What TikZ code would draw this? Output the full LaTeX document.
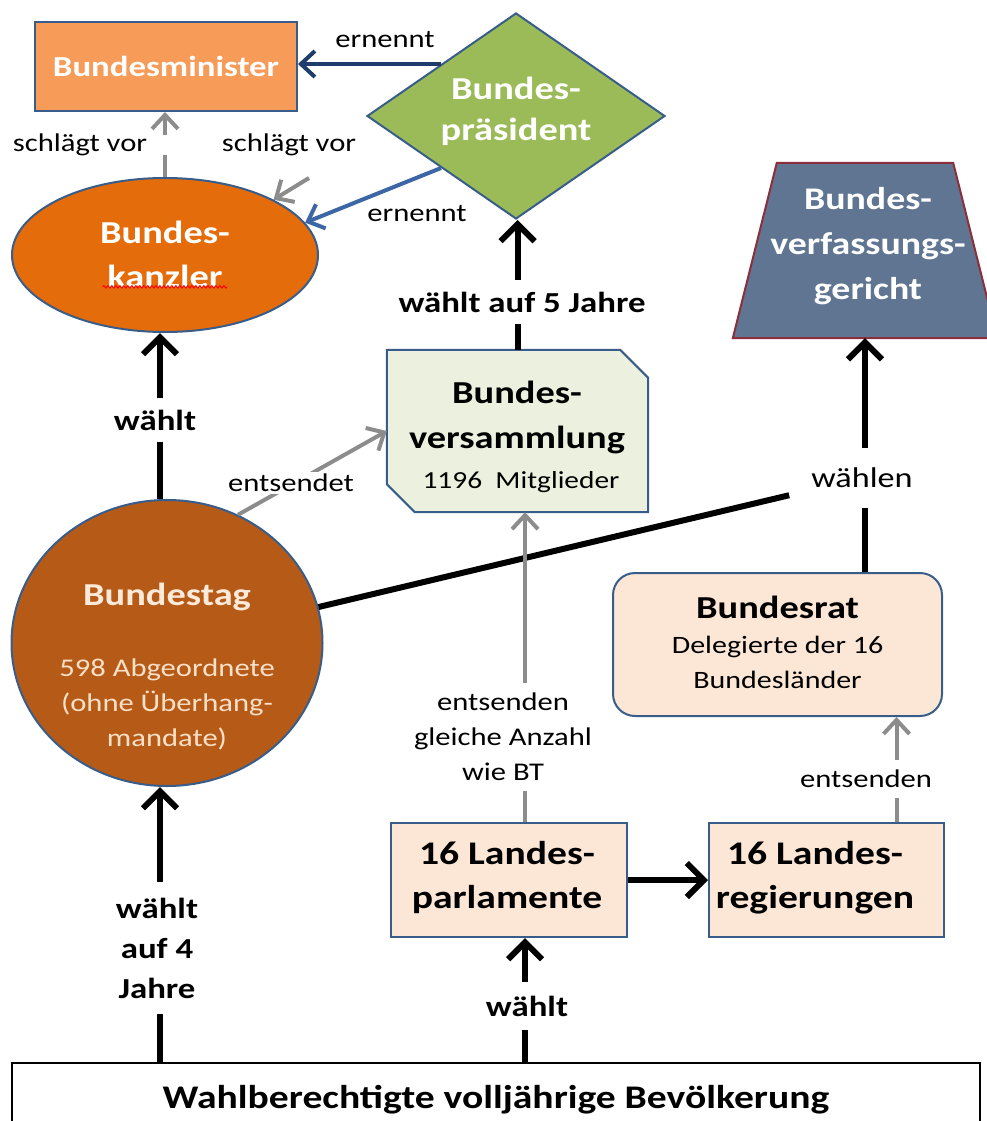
\documentclass[tikz,border=0pt]{standalone}
\usepackage{fontspec}
\setmainfont{Carlito}[FakeStretch=1.2]
\usetikzlibrary{arrows.meta,shapes.geometric,decorations.pathmorphing,calc}
\definecolor{bord}{HTML}{385D8A}
\definecolor{minfill}{HTML}{F79B58}
\definecolor{presfill}{HTML}{9BBB59}
\definecolor{kanzfill}{HTML}{E46C0A}
\definecolor{btfill}{HTML}{B65A17}
\definecolor{cream}{HTML}{FDEADA}
\definecolor{creamsub}{HTML}{FBE0C8}
\definecolor{bvfill}{HTML}{EBF1DE}
\definecolor{bvgfill}{HTML}{5F7591}
\definecolor{bvgbord}{HTML}{8C2F3D}
\definecolor{peach}{HTML}{FCE6D6}
\definecolor{arrgrey}{HTML}{8C8C8C}
\definecolor{darkblue}{HTML}{203C6C}
\definecolor{midblue}{HTML}{3D66A6}
\newcommand{\myfs}[2]{\fontsize{#1}{#2}\selectfont}
\tikzset{
  shapebox/.style={draw=bord, line width=2pt, inner sep=0pt},
  anchorbox/.style={inner sep=0pt},
  whitebold/.style={text=white, font=\bfseries\myfs{32}{43}, align=center},
  blackbold/.style={text=black, font=\bfseries\myfs{32}{44}, align=center},
  lbl/.style={font=\myfs{25.5}{35}, align=center, inner sep=1pt},
  lblbold/.style={font=\bfseries\myfs{29}{40}, align=center},
  blkarrow/.style={line width=6pt, -{Straight Barb[length=17pt,width=34pt]}},
  blkline/.style={line width=6pt},
  grarrow/.style={draw=arrgrey, line width=4pt, -{Straight Barb[length=14pt,width=26pt]}},
  dbarrow/.style={draw=darkblue, line width=4pt, -{Straight Barb[length=14pt,width=26pt]}},
  mbarrow/.style={draw=midblue, line width=4pt, -{Straight Barb[length=14pt,width=26pt]}}
}
\begin{document}
\begin{tikzpicture}[x=1pt,y=-1pt]
\useasboundingbox (0,0) rectangle (986,1121);

% ---- shapes ----
\node[shapebox, fill=minfill, minimum width=262pt, minimum height=89pt] (min) at (166,66.5) {};
\node[whitebold, font=\bfseries\myfs{29}{40}] (mint) at (166,66.5) {Bundesminister};

\node[shapebox, diamond, fill=presfill, minimum width=298pt, minimum height=206pt] (pres) at (516,116) {};
\node[whitebold, font=\bfseries\myfs{32}{41}] (prest) at (516,111) {Bundes-\\präsident};

\node[shapebox, ellipse, fill=kanzfill, minimum width=306pt, minimum height=154pt] (kanz) at (165,255) {};
\node[whitebold, font=\bfseries\myfs{32}{44}] (kanzt) at (165,254) {Bundes-\\kanzler};
\draw[red, line width=1pt, decorate, decoration={snake, amplitude=1.2pt, segment length=4pt}] ($(kanzt.south west)+(6,-4)$) -- ($(kanzt.south east)+(-6,-4)$);

\node[shapebox, ellipse, fill=btfill, minimum width=311pt, minimum height=286pt] (bt) at (167,643) {};
\node[text=cream, font=\bfseries\myfs{32}{43}] (btt) at (167,597) {Bundestag};
\node[text=creamsub, font=\myfs{25.5}{35}, align=center] (bts) at (167,704) {598 Abgeordnete\\(ohne Überhang-\\mandate)};

\node[anchorbox, minimum width=261pt, minimum height=162pt] (bv) at (517.5,431) {};
\draw[draw=bord, line width=2pt, fill=bvfill]
  (bv.north west) -- ($(bv.north east)+(-28,0)$) -- ($(bv.north east)+(0,28)$)
  -- (bv.south east) -- ($(bv.south west)+(28,0)$) -- ($(bv.south west)+(0,-28)$) -- cycle;
\node[blackbold, font=\bfseries\myfs{32}{45}] (bvt) at (517,417) {Bundes-\\versammlung};
\node[font=\myfs{24.5}{30}] (bvs) at (521,482) {1196~~Mitglieder};

\node[anchorbox, minimum width=264pt, minimum height=175pt] (bvg) at (865,250.5) {};
\draw[draw=bvgbord, line width=2pt, fill=bvgfill]
  (bvg.south west) -- ($(bvg.north west)+(44,0)$) -- ($(bvg.north east)+(-44,0)$) -- (bvg.south east) -- cycle;
\node[whitebold, font=\bfseries\myfs{31.5}{45}] (bvgt) at (868,246) {Bundes-\\verfassungs-\\gericht};

\node[shapebox, rounded corners=22pt, fill=peach, minimum width=329pt, minimum height=143pt] (br) at (777.5,644.5) {};
\node[blackbold] (brt) at (777.5,607) {Bundesrat};
\node[font=\myfs{25}{35}, align=center] (brs) at (777.5,662) {Delegierte der 16\\Bundesländer};

\node[shapebox, fill=peach, minimum width=236pt, minimum height=114pt] (lp) at (509,880) {};
\node[blackbold, font=\bfseries\myfs{33}{44}] (lpt) at (507,878) {16 Landes-\\parlamente};
\node[shapebox, fill=peach, minimum width=235pt, minimum height=114pt] (lr) at (826.5,880) {};
\node[blackbold, font=\bfseries\myfs{33}{44}] (lrt) at (815,878) {16 Landes-\\regierungen};

\node[draw=black, line width=1.5pt, fill=white, minimum width=968pt, minimum height=74pt,
      font=\bfseries\myfs{33}{40}] (bev) at (496,1100) {Wahlberechtigte volljährige Bevölkerung};

\node[font=\myfs{28.5}{30}, inner xsep=22pt, inner ysep=20pt] (wn) at (862,478) {wählen};

% ---- helper coordinates ----
\coordinate (bta) at ($(bt.north)+(-7,0)$);
\coordinate (btb) at ($(bt.south)+(-7,0)$);
\coordinate (lpa) at ($(lp.north)+(16,0)$);
\coordinate (lra) at ($(lr.north)+(70,0)$);
\coordinate (wna) at ($(wn.center)+(3,0)$);
\coordinate (sv) at (309,178);

% ---- connectors ----
\draw[dbarrow] (pres.north west) -- (pres.north west -| min.east);
\draw[mbarrow] (pres.south west) -- (kanz.13);
\draw[grarrow, dash pattern=on 22pt off 20pt on 200pt] (kanz.north) -- (kanz.north |- min.south);
\draw[grarrow] (sv) -- (kanz.27);
\draw[blkarrow] (bv.north) -- (bv.north |- pres.south);
\draw[blkarrow] (bta) -- (bta |- kanz.south);
\draw[grarrow] (bt.61) -- (bv.west);
\draw[blkline] (bt) -- (wn);
\draw[blkline] (br.north -| wna) -- (wna |- wn.south);
\draw[blkarrow] (wna |- wn.north) -- (wna |- bvg.south);
\draw[grarrow] (lpa) -- (lpa |- bv.south);
\draw[grarrow] (lra) -- (lra |- br.south);
\draw[blkarrow] (lp.east) -- (lr.west);
\draw[blkarrow] (bev.north -| lpa) -- (lpa |- lp.south);
\draw[blkarrow] (bev.north -| btb) -- (btb);

% ---- labels ----
\node[lbl] (l1) at (385,40) {ernennt};
\node[lbl] (l2) at (417,214) {ernennt};
\node[lbl] (l3) at (80,145) {schlägt vor};
\node[lbl] (l4) at (289,145) {schlägt vor};
\node[lblbold, fill=white, inner xsep=4pt, inner ysep=12pt] (l5) at (522,302) {wählt auf 5 Jahre};
\node[lblbold, fill=white, inner xsep=4pt, inner ysep=12pt] (l6) at (155,420) {wählt};
\node[lbl, fill=white, inner sep=2pt] (l7) at (291,483) {entsendet};
\node[lbl, fill=white, inner xsep=4pt, inner ysep=10pt] (l8) at (503,737) {entsenden\\gleiche Anzahl\\wie BT};
\node[lbl, fill=white, inner xsep=4pt, inner ysep=10pt] (l9) at (866,779) {entsenden};
\node[lblbold, fill=white, inner xsep=4pt, inner ysep=16pt] (l10) at (157,948) {wählt\\auf 4\\Jahre};
\node[lblbold, fill=white, inner xsep=4pt, inner ysep=14pt] (l11) at (527,1006) {wählt};
\end{tikzpicture}
\end{document}
